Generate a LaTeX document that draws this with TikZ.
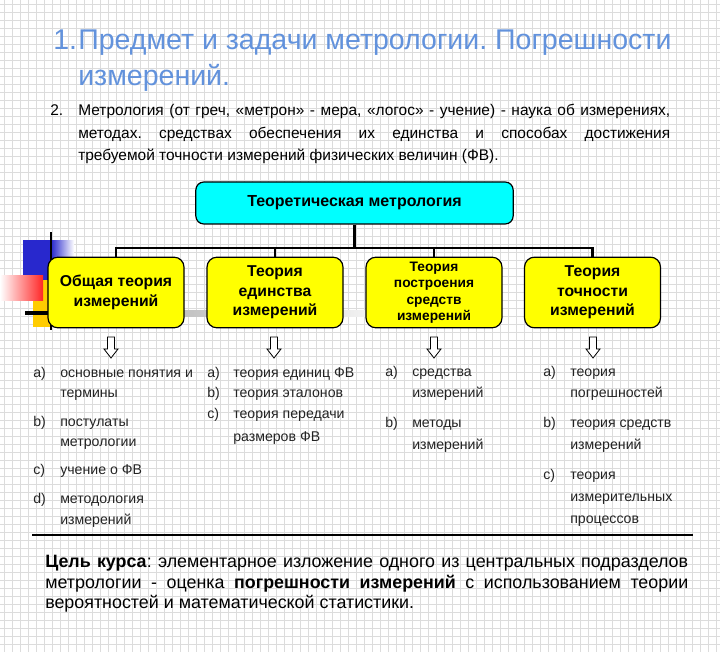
\documentclass[tikz,border=0pt]{standalone}
\usepackage{fontspec}
\setmainfont{Liberation Sans}
\usetikzlibrary{calc}
\definecolor{titleblue}{RGB}{98,146,220}
\definecolor{gridc}{RGB}{220,220,220}
\definecolor{decoblue}{RGB}{40,40,205}
\definecolor{decoorange}{RGB}{255,204,0}
\definecolor{txt}{RGB}{35,35,35}
\definecolor{boxcyan}{RGB}{0,255,255}
\definecolor{boxyellow}{RGB}{255,255,0}
\tikzset{
  topbox/.style={draw=black, line width=0.9pt, fill=boxcyan, rounded corners=6pt,
    minimum width=238pt, minimum height=31.5pt, inner sep=0pt,
    font=\bfseries\fontsize{12}{14}\selectfont},
  ybox/.style={draw=black, line width=0.9pt, fill=boxyellow, rounded corners=7.5pt,
    minimum width=102pt, minimum height=53pt, inner sep=0pt, align=center,
    font=\bfseries\fontsize{11.8}{14.5}\selectfont},
  ysmall/.style={font=\bfseries\fontsize{10.3}{12.3}\selectfont},
  busline/.style={line width=2.2pt, draw=black},
  hollowarrow/.style={draw=black, fill=white, line width=0.6pt},
  ttl/.style={anchor=base west, inner sep=0pt, text=titleblue, font=\fontsize{21.4}{25}\selectfont},
  para/.style={anchor=base west, inner sep=0pt, text=black, font=\fontsize{11.6}{13}\selectfont},
  lst/.style={anchor=base west, inner sep=0pt, text=txt, font=\fontsize{10.6}{12}\selectfont},
  goal/.style={anchor=base west, inner sep=0pt, text=black, font=\fontsize{13.4}{15}\selectfont},
}
\begin{document}
\frenchspacing
\begin{tikzpicture}[x=0.75pt,y=-0.75pt]
\useasboundingbox (0,0) rectangle (720,652);
\fill[white] (0,0) rectangle (720,652);
% grid background
\foreach \i in {4,12,...,720} \draw[gridc, line width=0.4pt] (\i,0) -- (\i,652);
\foreach \j in {4,12,...,652} \draw[gridc, line width=0.4pt] (0,\j) -- (720,\j);

% decoration
\fill[decoblue] (23,240) rectangle (51,282);
\shade[left color=decoblue, right color=white] (51,240) rectangle (74,268);
\fill[decoorange] (33,280) rectangle (51,327);
\shade[left color=white, right color=red!85] (0,275) rectangle (43,300);
\shade[left color=gray!75, right color=gray!8] (51,310.5) rectangle (378,316);
\draw[line width=2.2pt, black] (51,232) -- (51,330);
\draw[line width=3.5pt, black] (25,313) -- (51,313);

% top box
\node[topbox] (top) at (354.5,203) {Теоретическая метрология};

% second level boxes
\node[ybox] (b1) at (116,292.5) {Общая теория\\измерений};
\node[ybox] (b2) at (275,292.5) {Теория\\единства\\измерений};
\node[ybox, ysmall] (b3) at (434,292.5) {Теория\\построения\\средств\\измерений};
\node[ybox] (b4) at (592.5,292.5) {Теория\\точности\\измерений};

% bus
\coordinate (bus) at (354.5,248);
\draw[busline] (top.south) -- (bus);
\draw[busline] (b1.north) -- (b1.north |- bus) -- (b4.north |- bus) -- (b4.north);
\draw[busline] (b2.north) -- (b2.north |- bus);
\draw[busline] (b3.north) -- (b3.north |- bus);

% hollow arrows
\foreach \ax in {111,274,434,593}{
  \draw[hollowarrow] (\ax-3.5,337) -- (\ax+3.5,337) -- (\ax+3.5,349) -- (\ax+7,349)
    -- (\ax,358) -- (\ax-7,349) -- (\ax-3.5,349) -- cycle;
}

% title
\node[ttl] (t1n) at (53,50) {1.};
\node[ttl] (t1) at (78,50) {Предмет и задачи метрологии. Погрешности};
\node[ttl] (t2) at (78,86) {измерений.};

% item 2
\node[para] (n2) at (50,116) {2.};
\node[para] (p21) at (78,116) {\makebox[444pt][s]{Метрология (от греч, «метрон» - мера, «логос» - учение) - наука об измерениях,}};
\node[para] (p22) at (78,139) {\makebox[444pt][s]{методах. средствах обеспечения их единства и способах достижения}};
\node[para] (p23) at (78,161) {требуемой точности измерений физических величин (ФВ).};

% column 1
\node[lst] (c1a) at (33,377) {a)};
\node[lst] (c1at) at (60,377) {основные понятия и};
\node[lst] (c1at2) at (60,397) {термины};
\node[lst] (c1b) at (33,426) {b)};
\node[lst] (c1bt) at (60,426) {постулаты};
\node[lst] (c1bt2) at (60,446) {метрологии};
\node[lst] (c1c) at (33,474) {c)};
\node[lst] (c1ct) at (60,474) {учение о ФВ};
\node[lst] (c1d) at (33,503) {d)};
\node[lst] (c1dt) at (60,503) {методология};
\node[lst] (c1dt2) at (60,524) {измерений};

% column 2
\node[lst] (c2a) at (207,377) {a)};
\node[lst] (c2at) at (233,377) {теория единиц ФВ};
\node[lst] (c2b) at (207,397) {b)};
\node[lst] (c2bt) at (233,397) {теория эталонов};
\node[lst] (c2c) at (207,418) {c)};
\node[lst] (c2ct) at (233,418) {теория передачи};
\node[lst] (c2ct2) at (233,441) {размеров ФВ};

% column 3
\node[lst] (c3a) at (385,376) {a)};
\node[lst] (c3at) at (412,376) {средства};
\node[lst] (c3at2) at (412,397) {измерений};
\node[lst] (c3b) at (385,427) {b)};
\node[lst] (c3bt) at (412,427) {методы};
\node[lst] (c3bt2) at (412,449) {измерений};

% column 4
\node[lst] (c4a) at (543,376) {a)};
\node[lst] (c4at) at (570,376) {теория};
\node[lst] (c4at2) at (570,397) {погрешностей};
\node[lst] (c4b) at (543,427) {b)};
\node[lst] (c4bt) at (570,427) {теория средств};
\node[lst] (c4bt2) at (570,449) {измерений};
\node[lst] (c4c) at (543,479) {c)};
\node[lst] (c4ct) at (570,479) {теория};
\node[lst] (c4ct2) at (570,501) {измерительных};
\node[lst] (c4ct3) at (570,523) {процессов};

% divider
\draw[line width=1.1pt, black] (32,535) -- (693,535);

% goal paragraph
\node[goal] (g1) at (45,567) {\makebox[482.25pt][s]{\textbf{Цель курса}: элементарное изложение одного из центральных подразделов}};
\node[goal] (g2) at (45,588) {\makebox[482.25pt][s]{метрологии - оценка \textbf{погрешности измерений} с использованием теории}};
\node[goal] (g3) at (45,608) {вероятностей и математической статистики.};
\end{tikzpicture}
\end{document}
